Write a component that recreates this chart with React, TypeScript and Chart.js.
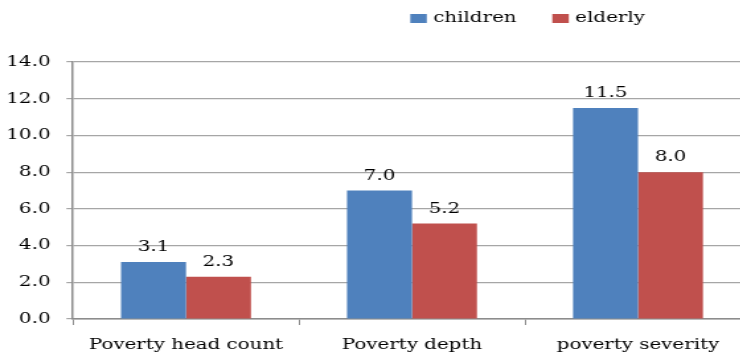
import React, { useEffect, useRef } from "react";
import { Chart, registerables } from "chart.js";

Chart.register(...registerables);

const categories = ["Poverty head count", "Poverty depth", "poverty severity"];
const childrenValues = [3.1, 7.0, 11.5];
const elderlyValues = [2.3, 5.2, 8.0];
const seriesNames = ["children", "elderly"];
const seriesColors = ["#4F81BD", "#C0504D"];

const FONT = "'DejaVu Serif', 'Liberation Serif', serif";

// The canvas is rendered narrower than it is displayed, which gives the
// wide, horizontally stretched lettering of this chart.
const RENDER_W = 568;
const DISPLAY_W = 751;
const H = 354;

const valueLabels = {
  id: "valueLabels",
  afterDatasetsDraw(chart: any) {
    const ctx = chart.ctx;
    ctx.save();
    ctx.font = `15px ${FONT}`;
    ctx.fillStyle = "#000";
    ctx.textAlign = "center";
    ctx.textBaseline = "alphabetic";
    chart.data.datasets.forEach((ds: any, i: number) => {
      const meta = chart.getDatasetMeta(i);
      meta.data.forEach((bar: any, j: number) => {
        ctx.fillText(Number(ds.data[j]).toFixed(1), bar.x, bar.y - 11);
      });
    });
    ctx.restore();
  },
};

const topLegend = {
  id: "topLegend",
  afterDraw(chart: any) {
    const ctx = chart.ctx;
    ctx.save();
    ctx.font = `15px ${FONT}`;
    ctx.textBaseline = "middle";
    ctx.textAlign = "left";
    const starts = [310.3, 417.7];
    chart.data.datasets.forEach((ds: any, i: number) => {
      const x = starts[i];
      ctx.fillStyle = ds.backgroundColor;
      ctx.fillRect(x, 14, 12.5, 9);
      ctx.fillStyle = "#000";
      ctx.fillText(ds.label, x + 17.4, 18);
    });
    ctx.restore();
  },
};

export default function App() {
  const ref = useRef<HTMLCanvasElement>(null);
  useEffect(() => {
    document.body.style.margin = "0";
    const chart = new Chart(ref.current!, {
      type: "bar",
      data: {
        labels: categories,
        datasets: [
          { label: seriesNames[0], data: childrenValues, backgroundColor: seriesColors[0] },
          { label: seriesNames[1], data: elderlyValues, backgroundColor: seriesColors[1] },
        ],
      },
      options: {
        animation: false,
        responsive: false,
        devicePixelRatio: 1,
        layout: { padding: { top: 62, right: 0, left: 0, bottom: 0 } },
        datasets: { bar: { categoryPercentage: 0.575, barPercentage: 1 } },
        plugins: { legend: { display: false }, tooltip: { enabled: false } },
        scales: {
          x: {
            grid: { drawOnChartArea: false, drawTicks: true, tickLength: 6, offset: true, color: "#8c8c8c" },
            border: { color: "#8c8c8c", width: 1.5 },
            ticks: { color: "#000", font: { family: FONT, size: 15 }, padding: 11, maxRotation: 0 },
            afterFit(scale: any) { scale.height = 35; },
          },
          y: {
            min: 0,
            max: 14,
            ticks: {
              stepSize: 2,
              color: "#000",
              font: { family: FONT, size: 15 },
              padding: 12,
              callback: (v: any) => Number(v).toFixed(1),
            },
            grid: { color: "#a6a6a6", tickLength: 5, lineWidth: 1.2 },
            border: { color: "#8c8c8c", width: 1.5 },
            afterFit(scale: any) { scale.width = 55.2; },
          },
        },
      },
      plugins: [valueLabels, topLegend],
    });
    return () => chart.destroy();
  }, []);
  return (
    <div style={{ width: 740, height: H, overflow: "hidden" }}>
      <canvas
        ref={ref}
        width={RENDER_W}
        height={H}
        style={{ display: "block", width: DISPLAY_W, height: H }}
      />
    </div>
  );
}
